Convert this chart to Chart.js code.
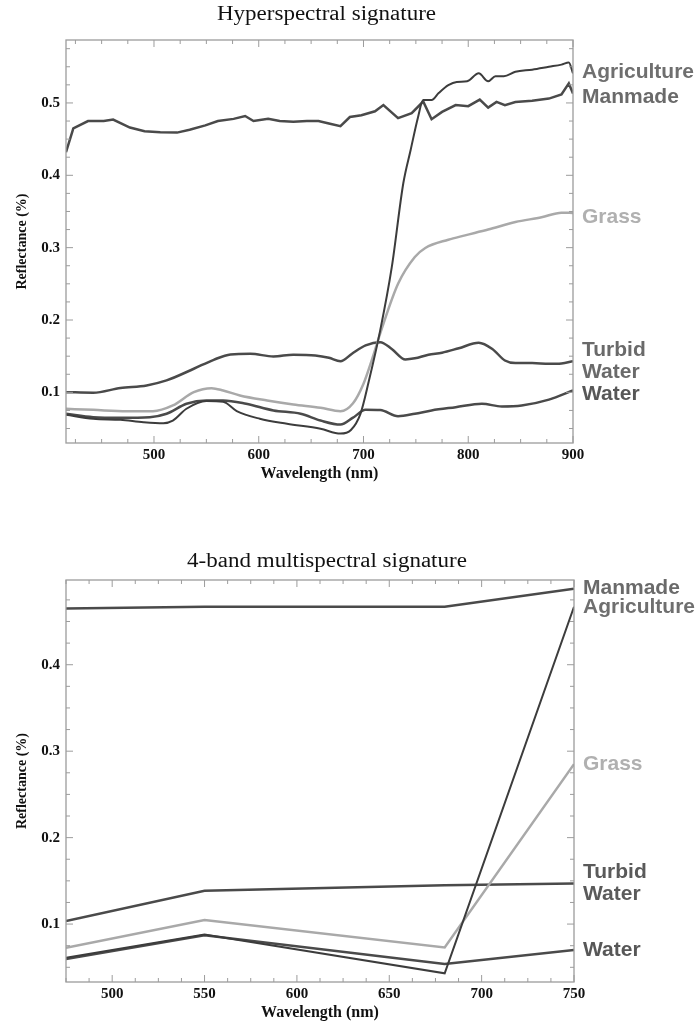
<!DOCTYPE html>
<html>
<head>
<meta charset="utf-8">
<script src="https://cdn.jsdelivr.net/npm/chart.js@4.4.1/dist/chart.umd.min.js"></script>
<style>
  body { margin: 0; background: #fff; }
  .box { position: absolute; left: 0; width: 700px; }
</style>
</head>
<body>
<div class="box" style="top:0;height:500px"><canvas id="hyper"></canvas></div>
<div class="box" style="top:500px;height:523px"><canvas id="multi"></canvas></div>
<script>
// ---- hyperspectral signature ----
const manmadeNm = [416, 423, 437, 452, 461, 477, 491, 506, 522, 534, 549, 561, 576, 587, 595, 609, 620, 633, 646, 657, 667, 678, 687, 698, 711, 719, 733, 746, 757, 765, 775, 788, 800, 811, 819, 827, 835, 845, 861, 877, 889, 896, 900]
const manmadeRefl = [0.432, 0.465, 0.475, 0.475, 0.477, 0.466, 0.461, 0.4595, 0.459, 0.463, 0.469, 0.475, 0.478, 0.482, 0.475, 0.478, 0.475, 0.474, 0.475, 0.475, 0.4715, 0.468, 0.4806, 0.483, 0.4885, 0.497, 0.479, 0.486, 0.502, 0.4775, 0.4876, 0.497, 0.4955, 0.5047, 0.4936, 0.5014, 0.497, 0.5014, 0.503, 0.506, 0.5116, 0.527, 0.513]

const agriNm = [416, 442, 468, 490, 509, 518, 531, 550, 566, 579, 601, 627, 659, 678, 688, 697, 705, 716, 727, 738, 745, 752, 757, 765, 772, 781, 789, 799, 810, 819, 826, 834, 845, 861, 877, 889, 896, 900]
const agriRefl = [0.069, 0.0635, 0.062, 0.0588, 0.0574, 0.061, 0.0773, 0.088, 0.087, 0.074, 0.0635, 0.0566, 0.0497, 0.043, 0.048, 0.07, 0.115, 0.186, 0.273, 0.389, 0.435, 0.48, 0.504, 0.504, 0.514, 0.5245, 0.529, 0.53, 0.541, 0.53, 0.537, 0.537, 0.543, 0.546, 0.55, 0.553, 0.556, 0.541]

const grassNm = [416, 442, 474, 499, 518, 538, 555, 566, 582, 608, 633, 659, 678, 690, 700, 708, 717, 733, 749, 759, 781, 797, 819, 845, 870, 889, 900]
const grassRefl = [0.0773, 0.0758, 0.074, 0.074, 0.0819, 0.1003, 0.1058, 0.1026, 0.0957, 0.0888, 0.0833, 0.0787, 0.074, 0.085, 0.112, 0.145, 0.186, 0.25, 0.287, 0.2995, 0.311, 0.317, 0.325, 0.3354, 0.342, 0.3484, 0.348]

const turbidNm = [416, 442, 468, 493, 512, 538, 557, 573, 592, 614, 633, 654, 667, 678, 689, 702, 716, 727, 740, 749, 762, 775, 791, 810, 823, 835, 845, 861, 877, 889, 900]
const turbidRefl = [0.1003, 0.0995, 0.106, 0.1096, 0.1165, 0.1326, 0.145, 0.1524, 0.1533, 0.1496, 0.152, 0.151, 0.1478, 0.143, 0.1534, 0.1649, 0.1694, 0.16, 0.1455, 0.147, 0.152, 0.1548, 0.161, 0.1686, 0.16, 0.144, 0.1404, 0.1404, 0.1395, 0.14, 0.143]

const waterNm = [416, 442, 468, 496, 512, 531, 550, 566, 588, 614, 640, 659, 678, 690, 702, 716, 733, 749, 765, 788, 813, 832, 851, 877, 900]
const waterRefl = [0.0704, 0.0657, 0.0649, 0.0657, 0.0704, 0.0842, 0.0888, 0.0888, 0.0842, 0.075, 0.0704, 0.061, 0.0554, 0.065, 0.0759, 0.0755, 0.067, 0.0704, 0.075, 0.0795, 0.0842, 0.0805, 0.0818, 0.09, 0.1026]

const hyperTicksX = [500, 600, 700, 800, 900]
const hyperTicksY = [0.1, 0.2, 0.3, 0.4, 0.5]

// ---- 4-band multispectral signature ----
const bandsNm = [475, 550, 680, 750]
const multiManmade = [0.465, 0.467, 0.467, 0.488]
const multiAgri = [0.061, 0.088, 0.043, 0.467]
const multiGrass = [0.0726, 0.1046, 0.073, 0.285]
const multiTurbid = [0.1035, 0.1385, 0.145, 0.147]
const multiWater = [0.0595, 0.087, 0.0538, 0.070]

const multiTicksX = [500, 550, 600, 650, 700, 750]
const multiTicksY = [0.1, 0.2, 0.3, 0.4]

const DARK = '#4a4a4a'
const LIGHT = '#a9a9a9'
const serif = 'Liberation Serif'

function pts(xs, ys) {
    return xs.map((x, i) => ({ x: x, y: ys[i] }))
}

function line(label, xs, ys, color, tagColor, extra) {
    return Object.assign({
        label: label,
        data: pts(xs, ys),
        borderColor: color,
        borderWidth: 2.5,
        pointRadius: 0,
        cubicInterpolationMode: 'monotone',
        tagColor: tagColor,
        tagShift: 0,
    }, extra || {})
}

// frame with inward ticks on all four sides, plus the heading
const framePlugin = {
    id: 'frame',
    afterDraw(chart, args, opts) {
        const { ctx, chartArea: a } = chart
        const sx = chart.scales.x, sy = chart.scales.y
        ctx.save()
        ctx.strokeStyle = '#9c9c9c'
        ctx.lineWidth = 1.3
        ctx.strokeRect(a.left, a.top, a.right - a.left, a.bottom - a.top)
        ctx.lineWidth = 1
        const marks = (scale, step, horiz) => {
            const majors = scale.ticks.map(t => t.value)
            const i0 = Math.ceil(scale.min / step - 1e-9)
            const i1 = Math.floor(scale.max / step + 1e-9)
            for (let i = i0; i <= i1; i++) {
                const v = i * step
                const major = majors.some(m => Math.abs(m - v) < 1e-6)
                const len = major ? 7 : 4
                const p = scale.getPixelForValue(v)
                ctx.beginPath()
                if (horiz) {
                    ctx.moveTo(p, a.bottom); ctx.lineTo(p, a.bottom - len)
                    ctx.moveTo(p, a.top); ctx.lineTo(p, a.top + len)
                } else {
                    ctx.moveTo(a.left, p); ctx.lineTo(a.left + len, p)
                    ctx.moveTo(a.right, p); ctx.lineTo(a.right - len, p)
                }
                ctx.stroke()
            }
        }
        marks(sx, opts.xStep, true)
        marks(sy, opts.yStep, false)

        // heading - the original type is a bit wider, so stretch it
        ctx.fillStyle = '#111'
        ctx.font = '20px "' + serif + '"'
        ctx.textAlign = 'center'
        ctx.textBaseline = 'middle'
        ctx.translate((a.left + a.right) / 2 + 7, opts.headingY)
        ctx.scale(1.15, 1)
        ctx.fillText(opts.heading, 0, 0)
        ctx.restore()
    }
}

// class names at the right end of each line
const tagPlugin = {
    id: 'tags',
    afterDatasetsDraw(chart) {
        const { ctx, chartArea: a } = chart
        ctx.save()
        ctx.font = 'bold 21px "Liberation Sans"'
        ctx.textAlign = 'left'
        ctx.textBaseline = 'middle'
        chart.data.datasets.forEach((ds, i) => {
            const meta = chart.getDatasetMeta(i)
            const last = meta.data[meta.data.length - 1]
            const words = ds.label.split(' ')
            const lh = 22
            const y0 = last.y + ds.tagShift - (words.length - 1) * lh / 2
            ctx.fillStyle = ds.tagColor
            words.forEach((w, k) => ctx.fillText(w, a.right + 9, y0 + k * lh))
        })
        ctx.restore()
    }
}

function axes(xMin, xMax, yMin, yMax, ticksX, ticksY, xHeight, titlePad) {
    const tickFont = { family: serif, weight: 'bold', size: 15 }
    const titleFont = { family: serif, weight: 'bold', size: 16 }
    return {
        x: {
            type: 'linear', min: xMin, max: xMax,
            afterBuildTicks: s => { s.ticks = ticksX.map(v => ({ value: v })) },
            afterFit: s => { s.height = xHeight },
            grid: { display: false, drawTicks: false },
            border: { display: false },
            ticks: { font: tickFont, color: '#111', padding: 3, maxRotation: 0, autoSkip: false },
            title: { display: true, text: 'Wavelength (nm)', font: titleFont, color: '#111', padding: { top: 0, bottom: titlePad } }
        },
        y: {
            type: 'linear', min: yMin, max: yMax,
            afterBuildTicks: s => { s.ticks = ticksY.map(v => ({ value: v })) },
            afterFit: s => { s.width = 66 },
            grid: { display: false, drawTicks: false },
            border: { display: false },
            ticks: { font: tickFont, color: '#111', padding: 6, autoSkip: false },
            title: { display: true, text: 'Reflectance (%)', font: { family: serif, weight: 'bold', size: 14 }, color: '#111', padding: { top: 14, bottom: 0 } }
        }
    }
}

new Chart(document.getElementById('hyper').getContext('2d'), {
    type: 'line',
    data: {
        datasets: [
            line('Agriculture', agriNm, agriRefl, '#3c3c3c', '#6f6f6f', { borderWidth: 2, tagShift: -1 }),
            line('Manmade', manmadeNm, manmadeRefl, DARK, '#6a6a6a', { cubicInterpolationMode: 'default', tension: 0, tagShift: 4 }),
            line('Grass', grassNm, grassRefl, LIGHT, '#b0b0b0', { tagShift: 4 }),
            line('Turbid Water', turbidNm, turbidRefl, DARK, '#6a6a6a'),
            line('Water', waterNm, waterRefl, DARK, '#575757', { tagShift: 4 }),
        ]
    },
    options: {
        responsive: true,
        maintainAspectRatio: false,
        animation: false,
        layout: { padding: { top: 40, right: 127, left: 0, bottom: 0 } },
        scales: axes(416, 900, 0.03, 0.587, hyperTicksX, hyperTicksY, 57, 17),
        plugins: {
            legend: { display: false },
            tooltip: { enabled: false },
            frame: { xStep: 25, yStep: 0.025, heading: 'Hyperspectral signature', headingY: 15 }
        }
    },
    plugins: [framePlugin, tagPlugin]
})

new Chart(document.getElementById('multi').getContext('2d'), {
    type: 'line',
    data: {
        datasets: [
            line('Manmade', bandsNm, multiManmade, DARK, '#6a6a6a', { tension: 0, cubicInterpolationMode: 'default' }),
            line('Agriculture', bandsNm, multiAgri, '#3c3c3c', '#6f6f6f', { tension: 0, cubicInterpolationMode: 'default', borderWidth: 2 }),
            line('Grass', bandsNm, multiGrass, LIGHT, '#b0b0b0', { tension: 0, cubicInterpolationMode: 'default' }),
            line('Turbid Water', bandsNm, multiTurbid, DARK, '#5a5a5a', { tension: 0, cubicInterpolationMode: 'default' }),
            line('Water', bandsNm, multiWater, DARK, '#575757', { tension: 0, cubicInterpolationMode: 'default' }),
        ]
    },
    options: {
        responsive: true,
        maintainAspectRatio: false,
        animation: false,
        layout: { padding: { top: 80, right: 126, left: 0, bottom: 0 } },
        scales: axes(475, 750, 0.033, 0.498, multiTicksX, multiTicksY, 41, 1),
        plugins: {
            legend: { display: false },
            tooltip: { enabled: false },
            frame: { xStep: 12.5, yStep: 0.025, heading: '4-band multispectral signature', headingY: 62 }
        }
    },
    plugins: [framePlugin, tagPlugin]
})
</script>
</body>
</html>
